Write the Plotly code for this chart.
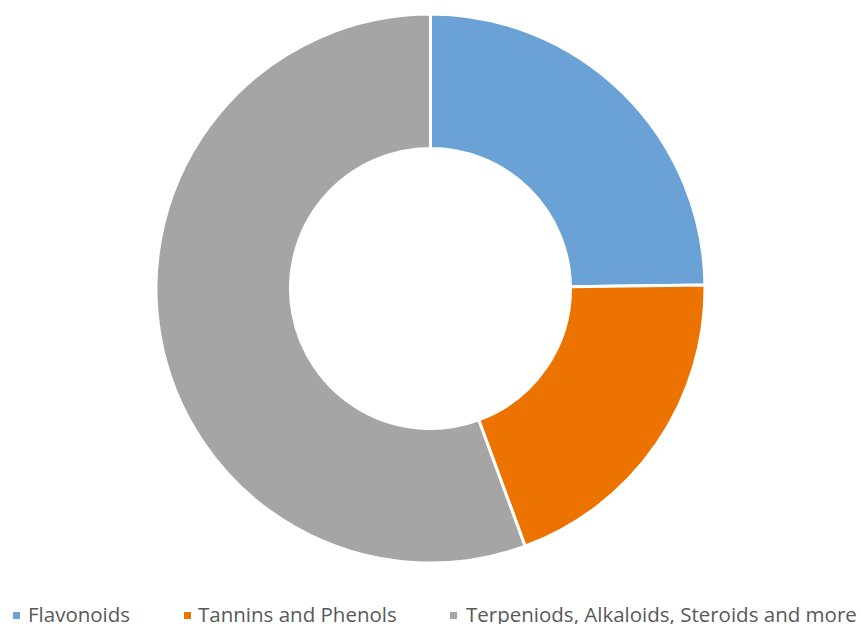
import plotly.graph_objects as go

# Share of phytochemical groups
labels = ["Flavonoids", "Tannins and Phenols", "Terpeniods, Alkaloids, Steroids and more"]
shares = [24.8, 19.6, 55.6]
colors = ["#6AA2D5", "#EC7300", "#A5A5A5"]

W, H = 861, 624

fig = go.Figure(
    go.Pie(
        labels=labels,
        values=shares,
        hole=0.51,
        sort=False,
        direction="clockwise",
        rotation=0,
        textinfo="none",
        hoverinfo="label+percent",
        showlegend=False,
        marker=dict(colors=colors, line=dict(color="white", width=3)),
        domain=dict(x=[0, 1], y=[61 / H, 610 / H]),
    )
)

# Legend row along the bottom edge: square swatch followed by its label
swatch_left = [13, 184, 450]
text_left = [27, 197, 465]
for lab, col, sx, tx in zip(labels, colors, swatch_left, text_left):
    fig.add_shape(
        type="rect", xref="paper", yref="paper",
        x0=sx / W, x1=(sx + 7) / W,
        y0=(H - 619) / H, y1=(H - 612) / H,
        fillcolor=col, line=dict(width=0),
    )
    fig.add_annotation(
        text=lab, xref="paper", yref="paper",
        x=(tx - 1) / W, y=(H - 614) / H,
        xanchor="left", yanchor="middle",
        showarrow=False,
        font=dict(family="Open Sans", size=20.5, color="#595959"),
    )

fig.update_layout(
    width=W,
    height=H,
    margin=dict(l=0, r=0, t=0, b=0),
    paper_bgcolor="white",
    plot_bgcolor="white",
    showlegend=False,
)

fig.write_html("out.html")
